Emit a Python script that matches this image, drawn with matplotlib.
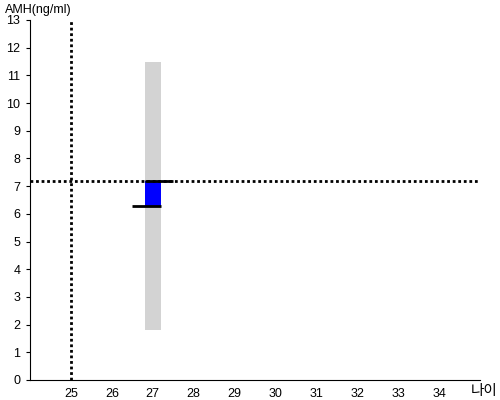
import matplotlib
matplotlib.use('Agg')
import matplotlib.pyplot as plt

plt.rcParams['font.family'] = ['Liberation Sans', 'Noto Sans CJK KR', 'DejaVu Sans']

# data
age = 27.0
range_low, range_high = 1.8, 11.5
amh_low, amh_high = 6.3, 7.2
ref_age = 25
ref_amh = 7.2
xticks = list(range(25, 35))
yticks = list(range(0, 14))

fig = plt.figure(figsize=(5, 4), dpi=100)
ax = fig.add_axes([0.06, 0.05, 0.90, 0.90])

ax.bar(age, range_high - range_low, width=0.4, bottom=range_low, color='#d3d3d3', zorder=1)
ax.bar(age, amh_high - amh_low, width=0.4, bottom=amh_low, color='#0000ff', zorder=2)
ax.hlines(amh_high, age - 0.2, age + 0.5, color='black', lw=2, zorder=3)
ax.hlines(amh_low, age - 0.5, age + 0.2, color='black', lw=2, zorder=3)

ax.axhline(ref_amh, color='black', ls=(0, (1, 1)), lw=2, zorder=3)
ax.axvline(ref_age, color='black', ls=(0, (1, 1)), lw=2, zorder=3)

ax.set_xlim(24, 35)
ax.set_ylim(0, 13)
ax.set_xticks(xticks)
ax.set_yticks(yticks)
ax.tick_params(axis='x', length=0, labelsize=9, pad=6)
ax.tick_params(axis='y', length=3, labelsize=9, pad=4)
ax.spines['top'].set_visible(False)
ax.spines['right'].set_visible(False)

fig.text(0.01, 0.975, 'AMH(ng/ml)', fontsize=9, va='center', ha='left')
fig.text(0.942, 0.022, '나이', fontsize=10.5, va='center', ha='left',
         family=['Noto Sans CJK KR', 'DejaVu Sans'])

fig.savefig('out.png', dpi=100)
